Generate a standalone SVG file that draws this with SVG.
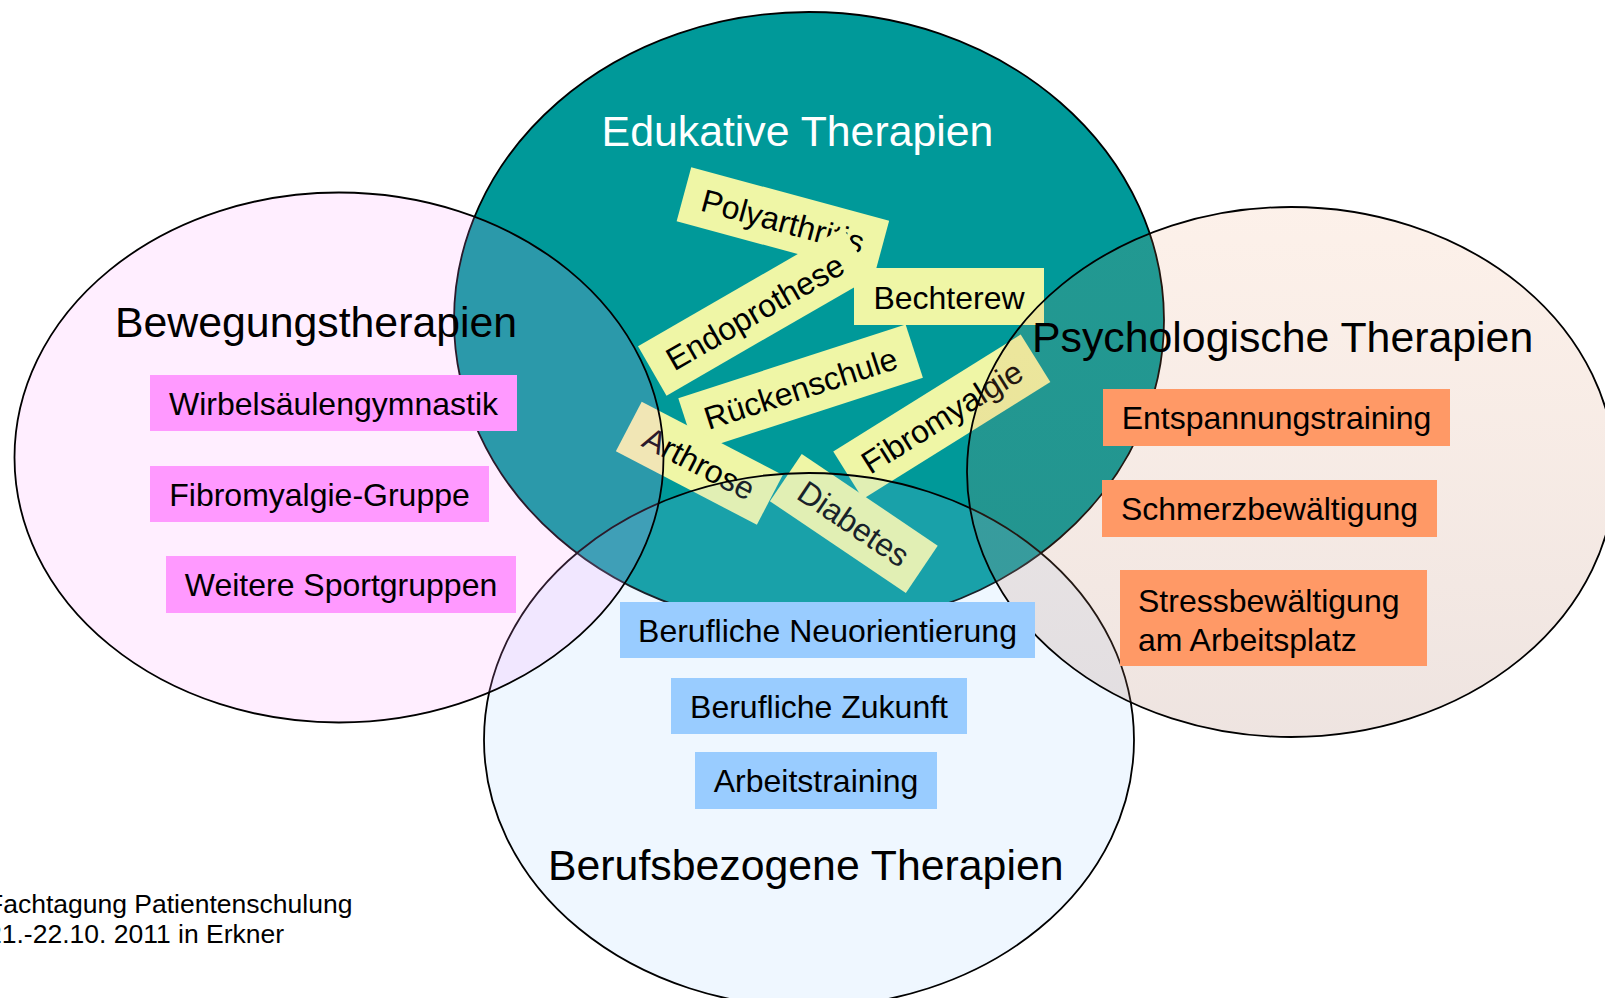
<svg xmlns="http://www.w3.org/2000/svg" width="1605" height="998" viewBox="0 0 1605 998">
  <style>
    text { font-family: "Liberation Sans", Arial, sans-serif; fill: #000; }
    .t32 { font-size: 32px; }
    .c { text-anchor: middle; }
    .title { font-size: 42.8px; }
    .ell { stroke: #000; stroke-width: 1.8; }
    .yl { fill: #eff6a6; }
    .pk { fill: #ff99ff; }
    .or { fill: #ff9966; }
    .bl { fill: #99ccff; }
  </style>
  <defs>
    <linearGradient id="gRight" x1="0" y1="0" x2="0" y2="1">
      <stop offset="0" stop-color="#ee9966" stop-opacity="0.14"/>
      <stop offset="1" stop-color="#aa7766" stop-opacity="0.2"/>
    </linearGradient>
  </defs>
  <rect width="1605" height="998" fill="#fff"/>

  <g id="edukativ">
    <ellipse class="ell" cx="809" cy="320" rx="355" ry="308" fill="#009999"/>
    <text class="title c" x="797.5" y="146" style="fill:#fff">Edukative Therapien</text>
  </g>

  <g id="edukativ-labels">
    <g id="polyarthritis" transform="translate(782.9,221) rotate(15.1)">
      <rect class="yl" x="-102.5" y="-28" width="205" height="56"/>
      <text class="t32 c" x="0" y="11.5">Polyarthritis</text>
    </g>
    <g id="endoprothese" transform="translate(754.9,311.7) rotate(-30)">
      <rect class="yl" x="-118.5" y="-28.5" width="237" height="57"/>
      <text class="t32 c" x="0" y="11.5">Endoprothese</text>
    </g>
    <g id="bechterew">
      <rect class="yl" x="854" y="268" width="190" height="57"/>
      <text class="t32 c" x="949" y="309">Bechterew</text>
    </g>
    <g id="rueckenschule" transform="translate(800.6,388) rotate(-18)">
      <rect class="yl" x="-119.5" y="-28" width="239" height="56"/>
      <text class="t32 c" x="0" y="11.5">Rückenschule</text>
    </g>
    <g id="fibromyalgie" transform="translate(941.8,416.8) rotate(-32)">
      <rect class="yl" x="-110.5" y="-28" width="221" height="56"/>
      <text class="t32 c" x="0" y="11.5">Fibromyalgie</text>
    </g>
    <g id="arthrose" transform="translate(699.3,463.2) rotate(27.5)">
      <rect class="yl" x="-79.5" y="-28" width="159" height="56"/>
      <text class="t32 c" x="0" y="11.5">Arthrose</text>
    </g>
    <g id="diabetes" transform="translate(853.8,523.4) rotate(34)">
      <rect class="yl" x="-82" y="-28.5" width="164" height="57"/>
      <text class="t32 c" x="0" y="11.5">Diabetes</text>
    </g>
  </g>

  <g id="berufsbezogen">
    <ellipse class="ell" cx="809" cy="740" rx="325" ry="267" fill="#99ccff" fill-opacity="0.16"/>
  </g>
  <g id="bewegung">
    <ellipse class="ell" cx="339" cy="457.5" rx="324.5" ry="265" fill="#ff99ff" fill-opacity="0.17"/>
  </g>
  <g id="psychologisch">
    <ellipse class="ell" cx="1291" cy="472" rx="324" ry="265" fill="url(#gRight)"/>
  </g>

  <g id="connectors"/>

  <g id="bewegung-items">
    <text class="title" x="115" y="337">Bewegungstherapien</text>
    <g id="wirbelsaeule">
      <rect class="pk" x="150" y="375" width="367" height="56"/>
      <text class="t32 c" x="333.5" y="414.5">Wirbelsäulengymnastik</text>
    </g>
    <g id="fibro-gruppe">
      <rect class="pk" x="150" y="466" width="339" height="56"/>
      <text class="t32 c" x="319.5" y="505.5">Fibromyalgie-Gruppe</text>
    </g>
    <g id="sportgruppen">
      <rect class="pk" x="166" y="556" width="350" height="57"/>
      <text class="t32 c" x="341" y="596">Weitere Sportgruppen</text>
    </g>
  </g>

  <g id="psycho-items">
    <text class="title" x="1032" y="352">Psychologische Therapien</text>
    <g id="entspannung">
      <rect class="or" x="1103" y="389" width="347" height="57"/>
      <text class="t32 c" x="1276.5" y="429">Entspannungstraining</text>
    </g>
    <g id="schmerz">
      <rect class="or" x="1102" y="480" width="335" height="57"/>
      <text class="t32 c" x="1269.5" y="520">Schmerzbewältigung</text>
    </g>
    <g id="stress">
      <rect class="or" x="1120" y="570" width="307" height="96"/>
      <text class="t32" x="1138" y="612">Stressbewältigung</text>
      <text class="t32" x="1138" y="651">am Arbeitsplatz</text>
    </g>
  </g>

  <g id="beruf-items">
    <g id="neuorientierung">
      <rect class="bl" x="620" y="602" width="415" height="56"/>
      <text class="t32 c" x="827.5" y="641.5">Berufliche Neuorientierung</text>
    </g>
    <g id="zukunft">
      <rect class="bl" x="671" y="678" width="296" height="56"/>
      <text class="t32 c" x="819" y="717.5">Berufliche Zukunft</text>
    </g>
    <g id="arbeitstraining">
      <rect class="bl" x="695" y="752" width="242" height="57"/>
      <text class="t32 c" x="816" y="792">Arbeitstraining</text>
    </g>
    <text class="title" x="548" y="880">Berufsbezogene Therapien</text>
  </g>

  <g id="footer">
    <text x="-13" y="913" style="font-size:26.5px">Fachtagung Patientenschulung</text>
    <text x="-13" y="943" style="font-size:26.5px">21.-22.10. 2011 in Erkner</text>
  </g>
</svg>
